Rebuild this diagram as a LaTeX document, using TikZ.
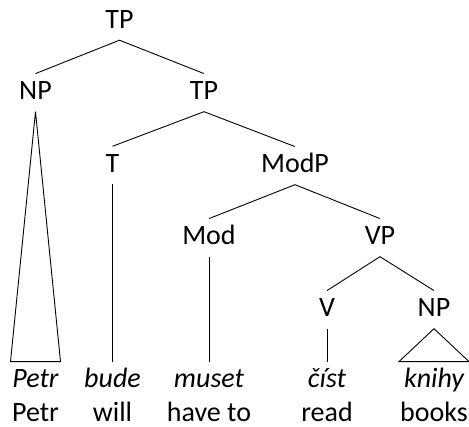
\documentclass[tikz,border=0pt]{standalone}
\usepackage{fontspec}
\setmainfont{Carlito}
\usepackage{tikz}
\usetikzlibrary{calc}
\definecolor{ink}{RGB}{0,0,0}
\tikzset{
  branch/.style={line width=0.9pt,ink},
  cat/.style={font=\fontsize{28}{34}\selectfont,text=ink,anchor=base,
    text height=17.7pt,text depth=3pt,inner ysep=8.5pt,inner xsep=1pt},
  word/.style={cat,font=\fontsize{28}{34}\selectfont\itshape},
  gloss/.style={font=\fontsize{28}{34}\selectfont,text=ink,anchor=base,
    text depth=0pt,inner sep=0pt}
}
\begin{document}
\begin{tikzpicture}[x=1pt,y=1pt]
  \useasboundingbox (0,0) rectangle (469,427);
  % categories (baselines measured from the top)
  \node[cat] (tp)   at (119.5,427-28.5) {TP};
  \node[cat] (np)   at (35.5,427-100)   {NP};
  \node[cat] (tpb)  at (204,427-100)    {TP};
  \node[cat] (t)    at (112.5,427-172.7) {T};
  \node[cat] (modp) at (295,427-173)    {ModP};
  \node[cat] (mod)  at (209,427-245)    {Mod};
  \node[cat] (vp)   at (380,427-245)    {VP};
  \node[cat] (v)    at (327,427-317)    {V};
  \node[cat] (npb)  at (434,427-317)    {NP};
  % words
  \node[word] (petr)  at (35.5,427-388) {Petr};
  \node[word] (bude)  at (112.5,427-388) {bude};
  \node[word] (muset) at (209,427-388)  {muset};
  \node[word] (cist)  at (327,427-388)  {číst};
  \node[word] (knihy) at (434,427-388)  {knihy};
  % glosses
  \node[gloss] (gpetr)  at (35.5,427-422) {Petr};
  \node[gloss] (gbude)  at (112.5,427-422) {will};
  \node[gloss] (gmuset) at (209,427-422)  {have to};
  \node[gloss] (gcist)  at (327,427-422)  {read};
  \node[gloss] (gknihy) at (434,427-422)  {books};
  % branches
  \draw[branch] (np.north) -- (tp.south) -- (tpb.north);
  \draw[branch] (t.north) -- (tpb.south) -- (modp.north);
  \draw[branch] (mod.north) -- (modp.south) -- (vp.north);
  \draw[branch] (v.north) -- (vp.south) -- (npb.north);
  \draw[branch] (t.south) -- (bude.north);
  \draw[branch] (mod.south) -- (muset.north);
  \draw[branch] (v.south) -- (cist.north);
  \draw[branch] (np.south) -- ([xshift=-25pt]petr.north) -- ([xshift=25pt]petr.north) -- cycle;
  \draw[branch] (npb.south) -- ([xshift=-35pt]knihy.north) -- ([xshift=35pt]knihy.north) -- cycle;
\end{tikzpicture}
\end{document}
